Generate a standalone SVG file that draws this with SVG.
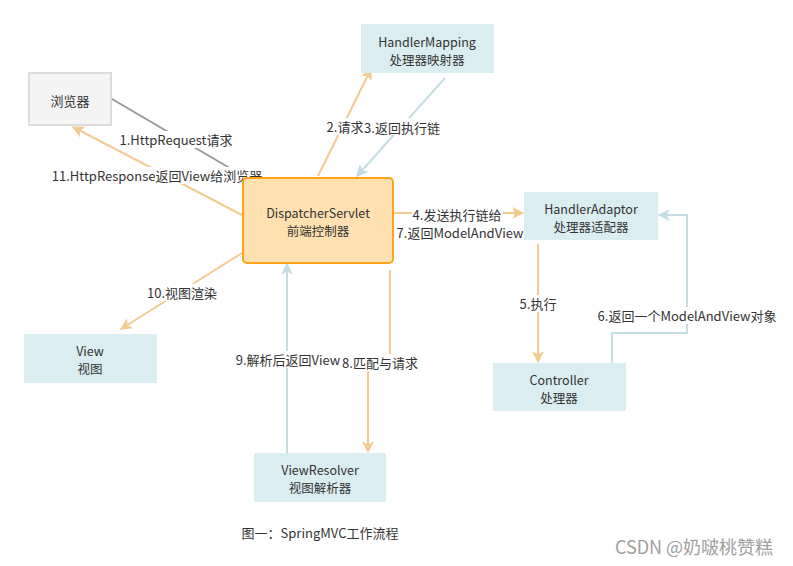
<svg xmlns="http://www.w3.org/2000/svg" width="793" height="566" viewBox="0 0 793 566">
<style>
text{font-family:"Microsoft YaHei","Noto Sans CJK SC","Liberation Sans",sans-serif;font-size:13px;fill:#333;text-anchor:middle;dominant-baseline:central}
.n{font-size:12.5px}
.blue{fill:#daedf1;stroke:none}
.o{stroke:#f2cb91;stroke-width:2;fill:none}
.b{stroke:#c3dde2;stroke-width:2;fill:none}
.g{stroke:#999;stroke-width:2;fill:none}
.lb{fill:#fff}
</style>
<defs>
<marker id="ao" viewBox="0 0 10 10" refX="9" refY="5" markerWidth="6" markerHeight="6" markerUnits="strokeWidth" orient="auto"><path d="M0,0 L10,5 L0,10 L2.5,5z" fill="#f2cb91"/></marker>
<marker id="ab" viewBox="0 0 10 10" refX="9" refY="5" markerWidth="6" markerHeight="6" markerUnits="strokeWidth" orient="auto"><path d="M0,0 L10,5 L0,10 L2.5,5z" fill="#c3dde2"/></marker>
</defs>
<rect width="793" height="566" fill="#fff"/>
<g id="connectors">
<line class="g" x1="112" y1="99" x2="245" y2="177"/>
<line class="o" x1="242" y1="215" x2="73" y2="127" marker-end="url(#ao)"/>
<line class="o" x1="318" y1="176" x2="371" y2="69" marker-end="url(#ao)"/>
<line class="b" x1="445" y1="78" x2="357" y2="176" marker-end="url(#ab)"/>
<line class="o" x1="393" y1="213" x2="523" y2="213" marker-end="url(#ao)"/>
<line class="o" x1="538" y1="244" x2="538" y2="362" marker-end="url(#ao)"/>
<polyline class="b" points="612,363 612,333 687,333 687,215 659,215" marker-end="url(#ab)"/>
<line class="o" x1="242" y1="253" x2="121" y2="329" marker-end="url(#ao)"/>
<line class="b" x1="287" y1="453" x2="287" y2="264" marker-end="url(#ab)"/>
<polyline class="o" points="390,270 390,360 368,360 368,452" marker-end="url(#ao)"/>
</g>
<g id="labels">
<rect class="lb" x="118" y="131" width="116" height="17"/><text x="176" y="139">1.HttpRequest请求</text>
<rect class="lb" x="50" y="167" width="215" height="17"/><text x="157" y="175">11.HttpResponse返回View给浏览器</text>
<rect class="lb" x="326" y="118" width="38" height="17"/><text x="345" y="126">2.请求</text>
<rect class="lb" x="364" y="118" width="77" height="17"/><text x="402" y="127">3.返回执行链</text>
<rect class="lb" x="412" y="205" width="91" height="17"/><text x="457" y="214">4.发送执行链给</text>
<rect class="lb" x="395" y="224" width="130" height="17"/><text x="460" y="232">7.返回ModelAndView</text>
<rect class="lb" x="518" y="295" width="40" height="17"/><text x="538" y="303">5.执行</text>
<rect class="lb" x="594" y="307" width="186" height="17"/><text x="687" y="315">6.返回一个ModelAndView对象</text>
<rect class="lb" x="146" y="284" width="72" height="17"/><text x="182" y="292">10.视图渲染</text>
<rect class="lb" x="234" y="351" width="108" height="17"/><text x="288" y="359">9.解析后返回View</text>
<rect class="lb" x="342" y="354" width="77" height="17"/><text x="380" y="362">8.匹配与请求</text>
</g>
<g id="browser">
<rect x="29" y="73" width="82" height="52" fill="#f4f4f4" stroke="#dcdcdc" stroke-width="2"/>
<text x="70" y="100">浏览器</text>
</g>
<g id="handlerMapping">
<rect class="blue" x="361" y="24" width="133" height="49"/>
<text class="n" x="427" y="41">HandlerMapping<tspan x="427" dy="18">处理器映射器</tspan></text>
</g>
<g id="dispatcher">
<rect x="243" y="178" width="150" height="85" rx="4" fill="#ffe0b1" stroke="#ffa31a" stroke-width="2"/>
<text class="n" x="318" y="212">DispatcherServlet<tspan x="318" dy="18">前端控制器</tspan></text>
</g>
<g id="handlerAdaptor">
<rect class="blue" x="524" y="192" width="134" height="48"/>
<text class="n" x="591" y="208">HandlerAdaptor<tspan x="591" dy="18">处理器适配器</tspan></text>
</g>
<g id="controller">
<rect class="blue" x="493" y="363" width="133" height="48"/>
<text class="n" x="559" y="379">Controller<tspan x="559" dy="18">处理器</tspan></text>
</g>
<g id="view">
<rect class="blue" x="24" y="334" width="133" height="49"/>
<text class="n" x="90" y="350">View<tspan x="90" dy="18">视图</tspan></text>
</g>
<g id="viewResolver">
<rect class="blue" x="254" y="453" width="132" height="49"/>
<text class="n" x="320" y="469">ViewResolver<tspan x="320" dy="18">视图解析器</tspan></text>
</g>
<text x="320" y="532">图一：SpringMVC工作流程</text>
<text x="694" y="546" style="font-size:18px;fill:#a0a0a0">CSDN @奶啵桃赞糕</text>
</svg>
